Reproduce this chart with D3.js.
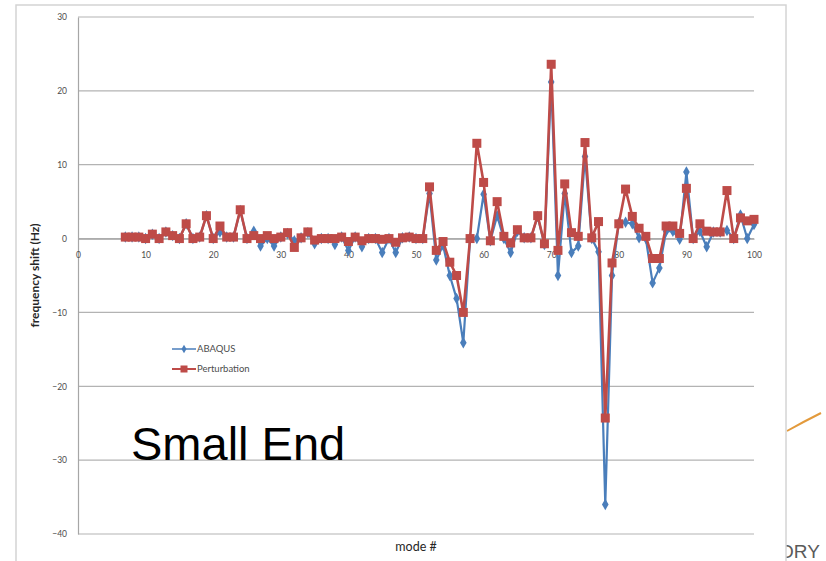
<!DOCTYPE html>
<html>
<head>
<meta charset="utf-8">
<script src="https://cdn.jsdelivr.net/npm/d3@7"></script>
<style>
  html, body { margin: 0; padding: 0; background: #ffffff; }
  svg { display: block; }
</style>
</head>
<body>
<svg id="chart" width="826" height="561"></svg>
<script>
// Mode numbers 7..100
const modes = [7,8,9,10,11,12,13,14,15,16,17,18,19,20,21,22,23,24,25,26,27,28,29,30,
  31,32,33,34,35,36,37,38,39,40,41,42,43,44,45,46,47,48,49,50,51,52,53,54,55,56,57,58,59,60,
  61,62,63,64,65,66,67,68,69,70,71,72,73,74,75,76,77,78,79,80,81,82,83,84,85,86,87,88,89,90,
  91,92,93,94,95,96,97,98,99,100];

// Frequency shift (Hz) from the ABAQUS analysis
const abaqus = [0.2,0.2,0.2,0.0,0.6,0.0,0.9,0.4,0.0,2.0,0.0,0.2,3.1,0.0,0.9,0.2,0.2,3.8,0.0,1.0,
  -1.0,0.0,-1.0,0.2,0.7,-0.3,0.1,0.8,-0.7,0.0,0.0,-0.8,0.2,-1.6,0.2,-1.1,0.0,0.0,-1.9,0.0,
  -1.9,0.1,0.2,0.0,0.0,6.1,-2.9,-0.9,-5.0,-8.1,-14.1,0.0,0.0,6.0,-0.3,3.1,0.0,-1.9,1.0,0.1,
  0.1,3.0,-0.8,21.2,-5.0,6.1,-1.9,-1.0,11.1,0.0,-1.8,-36.0,-5.0,2.1,2.2,2.0,0.1,0.0,-6.0,-4.0,
  1.0,1.0,-0.1,9.0,0.0,1.0,-1.1,0.9,0.9,1.1,0.0,3.2,0.0,1.9];

// Frequency shift (Hz) from the perturbation method
const perturbation = [0.2,0.2,0.2,0.0,0.6,0.0,0.9,0.4,0.0,2.0,0.0,0.2,3.1,0.0,1.7,0.2,0.2,3.9,0.0,0.4,
  0.0,0.4,0.0,0.2,0.8,-1.2,0.1,0.9,-0.2,0.0,0.0,0.0,0.2,-0.4,0.2,-0.3,0.0,0.0,-0.1,0.0,
  -0.5,0.1,0.2,0.0,0.0,7.0,-1.6,-0.4,-3.2,-5.0,-10.0,0.0,12.9,7.6,-0.3,5.0,0.3,-0.6,1.2,0.1,
  0.1,3.1,-0.7,23.6,-1.6,7.4,0.8,0.3,13.0,0.1,2.3,-24.3,-3.3,2.0,6.7,3.0,1.4,0.3,-2.7,-2.7,
  1.7,1.7,0.7,6.8,0.0,2.0,1.0,0.9,0.9,6.5,0.0,2.8,2.4,2.6];

const xTicks = [0,10,20,30,40,50,60,70,80,90,100];
const yTicks = [30,20,10,0,-10,-20,-30,-40];
const seriesNames = ["ABAQUS", "Perturbation"];

const svg = d3.select("#chart");
const blue = "#4a7ebb", red = "#be4b48";
const font = "Lato, 'Open Sans', sans-serif";

// Slide remnants to the right of the chart frame
svg.append("path")
  .attr("d", "M787,431 Q803,422 821,413")
  .attr("fill", "none").attr("stroke", "#e39a3c").attr("stroke-width", 2);
svg.append("text")
  .attr("x", 779).attr("y", 558)
  .attr("font-family", "'Liberation Sans', Arial, sans-serif")
  .attr("font-size", 19).attr("fill", "#5a5a5a")
  .text("ORY");

// Chart frame
svg.append("rect")
  .attr("x", 16).attr("y", 5).attr("width", 770).attr("height", 570)
  .attr("fill", "#ffffff").attr("stroke", "#d4d4d4").attr("stroke-width", 1.5);

const x = d3.scaleLinear().domain([0, 100]).range([78, 754]);
const y = d3.scaleLinear().domain([-40, 30]).range([534, 17]);

// Horizontal gridlines
svg.append("g").selectAll("line").data(yTicks).join("line")
  .attr("x1", x(0)).attr("x2", x(100))
  .attr("y1", d => y(d)).attr("y2", d => y(d))
  .attr("stroke", "#b3b3b3").attr("stroke-width", 1.2);

// Vertical axis
const yAxis = d3.axisLeft(y).tickValues(yTicks).tickSize(0).tickPadding(11);
const gy = svg.append("g").attr("transform", `translate(${x(0)},0)`).call(yAxis);
gy.select(".domain").attr("stroke", "#a6a6a6").attr("stroke-width", 1.2);
gy.selectAll("text").attr("font-family", font).attr("font-size", 8.5).attr("fill", "#4d4d4d");

// Horizontal axis through zero
const xAxis = d3.axisBottom(x).tickValues(xTicks).tickSize(0).tickPadding(13);
const gx = svg.append("g").attr("transform", `translate(0,${y(0)})`).call(xAxis);
gx.select(".domain").attr("stroke", "#a6a6a6").attr("stroke-width", 1.2);
gx.selectAll("text").attr("font-family", font).attr("font-size", 8.5).attr("fill", "#4d4d4d");

// Axis titles
svg.append("text")
  .attr("transform", `translate(39,${(y(30) + y(-40)) / 2}) rotate(-90)`)
  .attr("text-anchor", "middle")
  .attr("font-family", font).attr("font-size", 12).attr("font-weight", "bold")
  .attr("fill", "#262626")
  .text("frequency shift (Hz)");
svg.append("text")
  .attr("x", 416).attr("y", 551)
  .attr("text-anchor", "middle")
  .attr("font-family", font).attr("font-size", 12.5).attr("fill", "#262626")
  .text("mode #");

// Series
const line = d3.line().x(d => x(d[0])).y(d => y(d[1]));
const blueData = modes.map((m, i) => [m, abaqus[i]]);
const redData = modes.map((m, i) => [m, perturbation[i]]);

svg.append("path").datum(blueData).attr("d", line)
  .attr("fill", "none").attr("stroke", blue).attr("stroke-width", 2.2).attr("stroke-linejoin", "round");
svg.append("g").selectAll("path").data(blueData).join("path")
  .attr("d", d3.symbol(d3.symbolDiamond, 38))
  .attr("transform", d => `translate(${x(d[0])},${y(d[1])})`)
  .attr("fill", blue);

svg.append("path").datum(redData).attr("d", line)
  .attr("fill", "none").attr("stroke", red).attr("stroke-width", 2.6).attr("stroke-linejoin", "round");
svg.append("g").selectAll("rect").data(redData).join("rect")
  .attr("x", d => x(d[0]) - 4.5).attr("y", d => y(d[1]) - 4.5)
  .attr("width", 9).attr("height", 9)
  .attr("fill", red);

// Legend
const legend = svg.append("g");
const legY = [349, 369];
legend.append("line").attr("x1", 172).attr("x2", 196).attr("y1", legY[0]).attr("y2", legY[0])
  .attr("stroke", blue).attr("stroke-width", 1.5);
legend.append("path").attr("d", d3.symbol(d3.symbolDiamond, 22))
  .attr("transform", `translate(184,${legY[0]})`).attr("fill", blue);
legend.append("line").attr("x1", 172).attr("x2", 196).attr("y1", legY[1]).attr("y2", legY[1])
  .attr("stroke", red).attr("stroke-width", 2);
legend.append("rect").attr("x", 180.5).attr("y", legY[1] - 3.5).attr("width", 7).attr("height", 7)
  .attr("fill", red);
legend.selectAll("text").data(seriesNames).join("text")
  .attr("x", 197).attr("y", (d, i) => legY[i] + 3)
  .attr("font-family", font).attr("font-size", 9.5).attr("fill", "#4d4d4d")
  .text(d => d);

// Annotation
svg.append("text")
  .attr("x", 131).attr("y", 460)
  .attr("font-family", "'Liberation Sans', Arial, sans-serif")
  .attr("font-size", 47).attr("fill", "#000000")
  .text("Small End");
</script>
</body>
</html>
